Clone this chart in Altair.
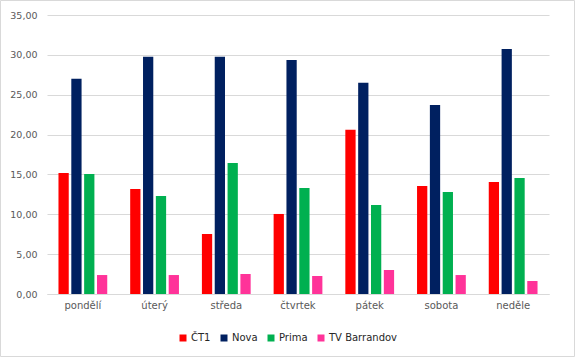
import altair as alt
import pandas as pd

days = ["pondělí", "úterý", "středa", "čtvrtek", "pátek", "sobota", "neděle"]
series = ["ČT1", "Nova", "Prima", "TV Barrandov"]
ct1 = [15.19, 13.18, 7.53, 10.04, 20.59, 13.56, 14.06]
nova = [26.99, 29.75, 29.75, 29.37, 26.49, 23.72, 30.75]
prima = [15.06, 12.30, 16.44, 13.31, 11.17, 12.80, 14.56]
tvb = [2.38, 2.38, 2.51, 2.26, 3.01, 2.38, 1.63]
colors = ["#FF0000", "#002060", "#00B050", "#FF3399"]

rows = []
for s, vals in zip(series, [ct1, nova, prima, tvb]):
    for d, v in zip(days, vals):
        rows.append({"den": d, "stanice": s, "hodnota": v})
df = pd.DataFrame(rows)

font = "DejaVu Sans"

bars = alt.Chart(df).mark_bar().encode(
    x=alt.X("den:N", sort=days, title=None,
            scale=alt.Scale(paddingInner=0.32, paddingOuter=0.16),
            axis=alt.Axis(labelAngle=0, ticks=False, domainColor="#d9d9d9",
                          labelColor="#595959", labelFontSize=10, labelFont=font,
                          labelPadding=6)),
    xOffset=alt.XOffset("stanice:N", sort=series,
                        scale=alt.Scale(paddingInner=0.2, paddingOuter=0)),
    y=alt.Y("hodnota:Q", title=None,
            scale=alt.Scale(domain=[0, 35]),
            axis=alt.Axis(values=[0, 5, 10, 15, 20, 25, 30, 35],
                          labelExpr="replace(format(datum.value, '.2f'), '.', ',')",
                          domain=False, ticks=False, gridColor="#d9d9d9",
                          labelColor="#595959", labelFontSize=9.5, labelFont=font,
                          labelPadding=10)),
    color=alt.Color("stanice:N", sort=series,
                    scale=alt.Scale(domain=series, range=colors),
                    legend=alt.Legend(title=None, orient="none", direction="horizontal",
                                      legendX=131, legendY=318,
                                      symbolType="square", symbolSize=49,
                                      symbolStrokeWidth=0,
                                      labelFont=font, labelFontSize=10,
                                      labelColor="#262626", columnPadding=8,
                                      labelOffset=3)),
)

border = alt.Chart(pd.DataFrame({"k": [0]})).mark_rect(
    fill=None, stroke="#d9d9d9", strokeWidth=1
).encode(
    x=alt.value(-46.5), x2=alt.value(527.5),
    y=alt.value(-14.5), y2=alt.value(341.5),
)

chart = alt.layer(bars, border).properties(
    width=502, height=279,
    autosize=alt.AutoSizeParams(type="none"),
    padding={"left": 47, "top": 15, "right": 26, "bottom": 63},
).configure_view(stroke=None)

chart.save("out.html", embed_options={"renderer": "svg", "actions": False})
